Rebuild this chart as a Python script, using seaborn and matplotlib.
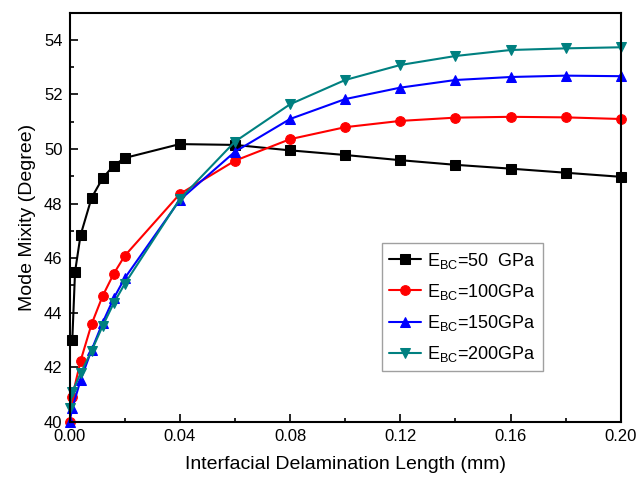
import matplotlib
matplotlib.use("Agg")
import matplotlib.pyplot as plt
import seaborn as sns
import pandas as pd
from matplotlib.ticker import MultipleLocator

# data (length in mm, mode mixity in degrees)
x_50 = [0.001, 0.002, 0.004, 0.008, 0.012, 0.016, 0.02, 0.04, 0.06, 0.08,
        0.10, 0.12, 0.14, 0.16, 0.18, 0.20]
y_50 = [43.0, 45.5, 46.84, 48.21, 48.93, 49.39, 49.67, 50.18, 50.15, 49.95,
        49.78, 49.59, 49.42, 49.28, 49.13, 48.98]

x_rest = [0.0, 0.001, 0.004, 0.008, 0.012, 0.016, 0.02, 0.04, 0.06, 0.08,
          0.10, 0.12, 0.14, 0.16, 0.18, 0.20]
y_100 = [40.0, 40.92, 42.23, 43.58, 44.61, 45.42, 46.08, 48.35, 49.57, 50.36,
         50.80, 51.03, 51.15, 51.18, 51.16, 51.10]
y_150 = [40.0, 40.49, 41.53, 42.63, 43.63, 44.52, 45.26, 48.13, 49.90, 51.10,
         51.83, 52.25, 52.53, 52.64, 52.69, 52.67]
y_200 = [40.5, 41.1, 41.77, 42.60, 43.51, 44.34, 45.05, 48.16, 50.27, 51.64,
         52.53, 53.08, 53.41, 53.63, 53.69, 53.73]

labels = [r"E$_{\mathrm{BC}}$=50  GPa", r"E$_{\mathrm{BC}}$=100GPa",
          r"E$_{\mathrm{BC}}$=150GPa", r"E$_{\mathrm{BC}}$=200GPa"]

sns.set_style("ticks")
plt.rcParams['font.family'] = ['Liberation Sans', 'DejaVu Sans']
plt.rcParams['mathtext.fontset'] = 'custom'
plt.rcParams['mathtext.rm'] = 'Liberation Sans'
plt.rcParams['mathtext.it'] = 'Liberation Sans'
plt.rcParams['text.color'] = 'black'
plt.rcParams['axes.labelcolor'] = 'black'
plt.rcParams['xtick.color'] = 'black'
plt.rcParams['ytick.color'] = 'black'

fig = plt.figure(figsize=(6.38, 4.79), dpi=100)
ax = fig.add_axes([0.109, 0.1196, 0.864, 0.854])

series = [
    (x_50, y_50, "black", "s"),
    (x_rest, y_100, "#ff0000", "o"),
    (x_rest, y_150, "#0000ff", "^"),
    (x_rest, y_200, "#008080", "v"),
]
for (xs, ys, col, mk), lab in zip(series, labels):
    df = pd.DataFrame({"x": xs, "y": ys})
    sns.lineplot(data=df, x="x", y="y", ax=ax, color=col, marker=mk,
                 markersize=7, markeredgecolor=col, linewidth=1.5,
                 estimator=None, label=lab, clip_on=False)

ax.set_xlim(0, 0.2)
ax.set_ylim(40, 55)
ax.xaxis.set_major_locator(MultipleLocator(0.04))
ax.xaxis.set_minor_locator(MultipleLocator(0.02))
ax.yaxis.set_major_locator(MultipleLocator(2))
ax.yaxis.set_minor_locator(MultipleLocator(1))
ax.set_yticks([40, 42, 44, 46, 48, 50, 52, 54])
ax.xaxis.set_major_formatter(plt.FuncFormatter(lambda v, p: f"{v:.2f}"))
ax.tick_params(which="major", direction="in", length=6, width=1.2,
               labelsize=12, top=False, right=False, pad=5)
ax.tick_params(which="minor", direction="in", length=3, width=1.2,
               top=False, right=False)
for s in ax.spines.values():
    s.set_visible(True)
    s.set_linewidth(1.5)
    s.set_color("black")

ax.set_xlabel("Interfacial Delamination Length (mm)", fontsize=14, labelpad=9)
ax.set_ylabel("Mode Mixity (Degree)", fontsize=14, labelpad=6)

leg = ax.legend(loc="upper left", bbox_to_anchor=(0.566, 0.436), fontsize=13,
                frameon=True, fancybox=False, edgecolor="#888888",
                handlelength=1.8, handletextpad=0.3, borderpad=0.4,
                labelspacing=0.62, borderaxespad=0)
leg.get_frame().set_linewidth(1.0)

fig.savefig("out.png", dpi=100)
